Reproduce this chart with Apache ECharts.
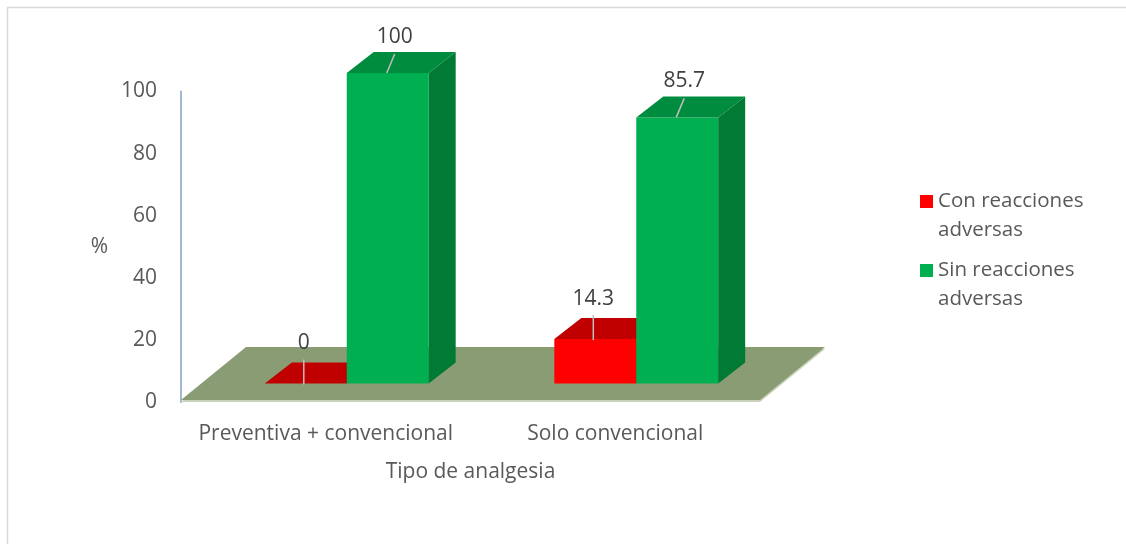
<!DOCTYPE html>
<html>
<head>
<meta charset="utf-8">
<script src="https://cdn.jsdelivr.net/npm/echarts@6/dist/echarts.min.js"></script>
<style>
  html, body { margin: 0; padding: 0; background: #fff; }
  #main { width: 1126px; height: 544px; }
</style>
</head>
<body>
<div id="main"></div>
<script>
const categories = ['Preventiva + convencional', 'Solo convencional'];
const conReacciones = [0, 14.3];
const sinReacciones = [100, 85.7];
const seriesNames = ['Con reacciones\nadversas', 'Sin reacciones\nadversas'];

const FONT = '"Open Sans", "Noto Sans", sans-serif';
const TEXT_GRAY = '#595959';

// 3d look: bars sit a bit behind the front edge of the floor
const DX = 21, DY = -18.5;      // shift from axis plane to bar front
const BX = 27, BY = -21;        // bar depth
const FX = 65, FY = -53;        // floor depth
const BAR_RATIO = 0.283;

function barRenderer(slot, colors, lbl) {
  return function (params, api) {
    const cat = api.value(0);
    const val = api.value(1);
    const base = api.coord([cat, 0]);
    const top = api.coord([cat, val]);
    const w = api.size([1, 0])[0] * BAR_RATIO;
    const x0 = base[0] + DX + (slot - 1) * w;
    const x1 = x0 + w;
    const yB = base[1] + DY;
    const yT = top[1] + DY;
    const fc = x0 + w / 2;
    return {
      type: 'group',
      children: [
        { type: 'rect', shape: { x: x0, y: yT, width: w, height: yB - yT }, style: { fill: colors[0] } },
        { type: 'polygon', shape: { points: [[x1, yT], [x1 + BX, yT + BY], [x1 + BX, yB + BY], [x1, yB]] }, style: { fill: colors[2] } },
        { type: 'polygon', shape: { points: [[x0, yT], [x1, yT], [x1 + BX, yT + BY], [x0 + BX, yT + BY]] }, style: { fill: colors[1] } },
        { type: 'line', shape: { x1: fc + lbl.lx1, y1: yT + lbl.ly1, x2: fc + lbl.lx2, y2: yT + lbl.ly2 }, style: { stroke: '#bfbfbf', lineWidth: 1.5 } },
        { type: 'text', x: fc + lbl.dx, y: yT + lbl.dy, style: { text: String(val), fill: '#404040', font: '21px ' + FONT, align: 'center', verticalAlign: 'middle' } }
      ]
    };
  };
}

function floorRenderer(params, api) {
  const cs = params.coordSys;
  const yF = cs.y + cs.height - 2;
  const xL = cs.x, xR = cs.x + cs.width;
  return {
    type: 'group',
    children: [
      { type: 'polygon', shape: { points: [[xL, yF + 2], [xR, yF + 2], [xR + FX, yF + FY + 2], [xL + FX, yF + FY + 2]] }, style: { fill: '#c9d2bb' } },
      { type: 'polygon', shape: { points: [[xL, yF], [xR, yF], [xR + FX, yF + FY], [xL + FX, yF + FY]] }, style: { fill: '#8a9c73' } }
    ]
  };
}

const chart = echarts.init(document.getElementById('main'));

const option = {
  animation: false,
  backgroundColor: '#fff',
  graphic: [{
    type: 'rect',
    shape: { x: 7.5, y: 7.5, width: 1130, height: 560 },
    style: { fill: 'none', stroke: '#d9d9d9', lineWidth: 1.5 },
    silent: true
  }],
  grid: { left: 181, right: 366, top: 91.5, bottom: 142 },
  legend: {
    data: seriesNames,
    orient: 'vertical',
    left: 920,
    top: 158,
    padding: 0,
    icon: 'rect',
    itemWidth: 13,
    itemHeight: 13,
    itemGap: -18,
    // empty first line keeps the icon level with the first text line
    formatter: name => '\n' + name,
    textStyle: { color: TEXT_GRAY, fontSize: 20.5, fontFamily: FONT, lineHeight: 29 }
  },
  xAxis: {
    type: 'category',
    data: categories,
    axisLine: { show: false },
    axisTick: { show: false },
    axisLabel: { color: TEXT_GRAY, fontSize: 21, fontFamily: FONT, margin: 22, interval: 0 },
    name: 'Tipo de analgesia',
    nameLocation: 'middle',
    nameGap: 60,
    nameTextStyle: { color: TEXT_GRAY, fontSize: 21, fontFamily: FONT }
  },
  yAxis: {
    type: 'value',
    min: 0,
    max: 100,
    interval: 20,
    axisLine: { show: true, lineStyle: { color: '#a3b8d2', width: 2 } },
    axisTick: { show: false },
    splitLine: { show: false },
    axisLabel: { color: TEXT_GRAY, fontSize: 21, fontFamily: FONT, margin: 24 },
    name: '%',
    nameLocation: 'middle',
    nameRotate: 0,
    nameGap: 73,
    nameTextStyle: { color: TEXT_GRAY, fontSize: 21, fontFamily: FONT, padding: [6, 0, 0, 0] }
  },
  series: [
    {
      name: 'floor',
      type: 'custom',
      renderItem: floorRenderer,
      data: [[0]],
      z: 1,
      silent: true
    },
    {
      name: seriesNames[0],
      type: 'custom',
      itemStyle: { color: '#FF0000' },
      renderItem: barRenderer(0, ['#FF0000', '#C00000', '#A80000'], { dx: -2, dy: -40, lx1: -2, ly1: -24, lx2: -2, ly2: 1 }),
      data: categories.map((c, i) => [i, conReacciones[i]]),
      z: 2
    },
    {
      name: seriesNames[1],
      type: 'custom',
      itemStyle: { color: '#00B050' },
      renderItem: barRenderer(1, ['#00B050', '#008C3F', '#007A35'], { dx: 7, dy: -36, lx1: 7, ly1: -19, lx2: -1, ly2: 0 }),
      data: categories.map((c, i) => [i, sinReacciones[i]]),
      z: 3
    }
  ]
};

chart.setOption(option);
window.addEventListener('resize', () => chart.resize());
</script>
</body>
</html>
